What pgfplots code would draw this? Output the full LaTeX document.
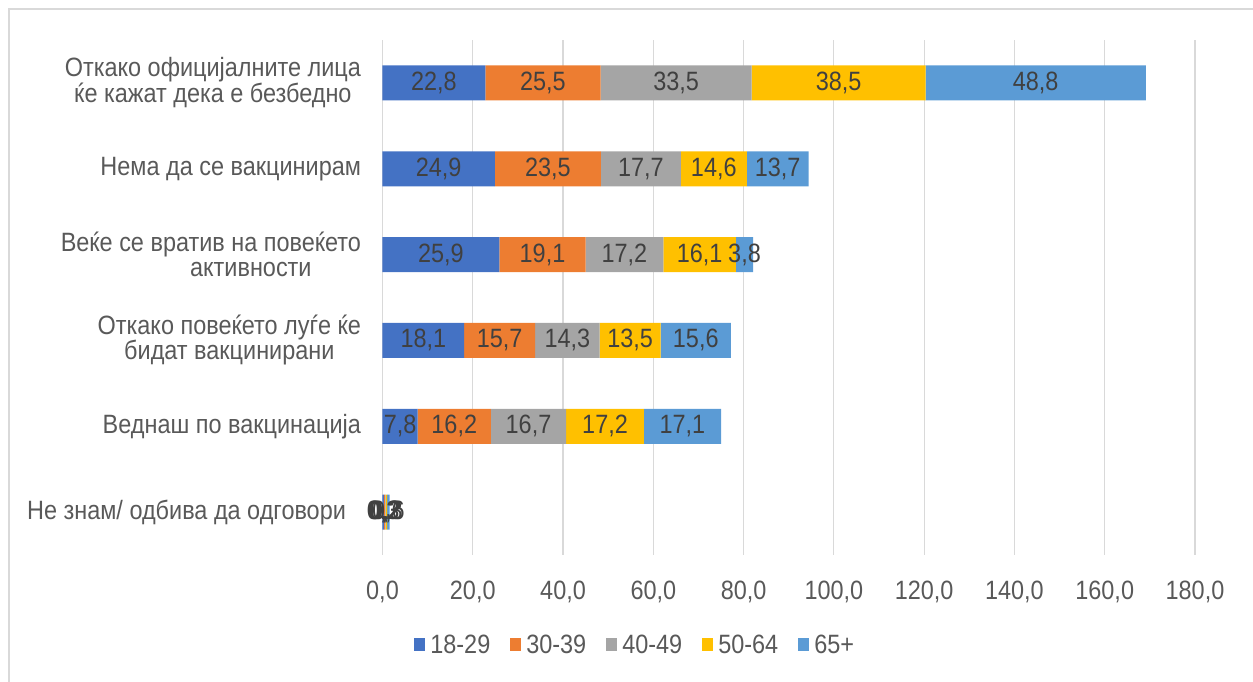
\documentclass[border=0pt]{standalone}
\usepackage{pgfplots}
\usepackage{pgfplotstable}
\pgfplotsset{compat=1.18}
\usepackage{fontspec}
\setmainfont[FakeStretch=0.885]{Liberation Sans}
\definecolor{c1}{HTML}{4472C4}
\definecolor{c2}{HTML}{ED7D31}
\definecolor{c3}{HTML}{A5A5A5}
\definecolor{c4}{HTML}{FFC000}
\definecolor{c5}{HTML}{5B9BD5}
\definecolor{txt}{HTML}{595959}
\definecolor{lbl}{HTML}{404040}
\definecolor{grd}{HTML}{D9D9D9}
\newcommand{\f}{\fontsize{26.5}{25}\selectfont}
\pgfplotstableread{
y a b c d e
0 22.8 25.5 33.5 38.5 48.8
1 24.9 23.5 17.7 14.6 13.7
2 25.9 19.1 17.2 16.1 3.8
3 18.1 15.7 14.3 13.5 15.6
4 7.8 16.2 16.7 17.2 17.1
5 0.3 0.2 0.2 0.3 0.6
}\data
\pgfplotsset{
  base/.style={
    at={(0pt,0pt)}, anchor=south west,
    scale only axis, width=812.5pt, height=515pt,
    xmin=0, xmax=180, ymin=-0.5, ymax=5.5, y dir=reverse,
    /pgf/number format/assume math mode=true,
    /pgf/number format/.cd, fixed, fixed zerofill, precision=1, use comma, /pgfplots/.cd,
  },
  lab/.style={draw=none, mark=none, nodes near coords={\pgfmathprintnumber{\pgfplotspointmeta}},
    point meta=explicit,
    every node near coord/.style={anchor=center, text=lbl, font=\f, inner sep=0pt}},
}
\begin{document}
\begin{tikzpicture}
\useasboundingbox (-382.5pt,-127pt) rectangle (870.5pt,555pt);
\draw[grd, line width=1.5pt] (-373.5pt,-130pt) -- (-373.5pt,546pt) -- (875pt,546pt);
\begin{axis}[base,
  xbar stacked, bar width=35pt,
  axis line style={draw=none}, tick style={draw=none},
  xmajorgrids, grid style={grd, line width=1.2pt},
  xtick distance=20,
  xticklabel style={anchor=center, yshift=-37pt, text=txt, font=\f},
  ytick={0,1,2,3,4,5},
  yticklabels={{Откако официјалните лица\\ќе кажат дека е безбедно},
    {Нема да се вакцинирам},
    {Веќе се вратив на повеќето\\\hspace*{80pt}активности},
    {Откако повеќето луѓе ќе\\бидат вакцинирани},
    {Веднаш по вакцинација},
    {Не знам/ одбива да одговори\hspace*{15pt}}},
  yticklabel style={align=center, anchor=east, xshift=-18pt, text=txt, font=\f},
  legend style={at={(0.311,-0.175)}, anchor=center, draw=none, legend columns=5,
    font=\f, text=txt,
    /tikz/every even column/.append style={column sep=18pt}},
  legend image code/.code={\draw[#1, draw=none] (0pt,-6pt) rectangle (11pt,7pt); \path (14pt,0pt);},
]
\addplot[fill=c1, draw=none] table[x=a, y=y] \data;
\addplot[fill=c2, draw=none] table[x=b, y=y] \data;
\addplot[fill=c3, draw=none] table[x=c, y=y] \data;
\addplot[fill=c4, draw=none] table[x=d, y=y] \data;
\addplot[fill=c5, draw=none] table[x=e, y=y] \data;
\legend{18-29, 30-39, 40-49, 50-64, 65+}
\end{axis}
\begin{axis}[base, hide axis, clip=false]
\addplot[lab] table[x expr=\thisrow{a}/2, y=y, meta=a] \data;
\addplot[lab] table[x expr=\thisrow{a}+\thisrow{b}/2, y=y, meta=b] \data;
\addplot[lab] table[x expr=\thisrow{a}+\thisrow{b}+\thisrow{c}/2, y=y, meta=c] \data;
\addplot[lab] table[x expr=\thisrow{a}+\thisrow{b}+\thisrow{c}+\thisrow{d}/2, y=y, meta=d] \data;
\addplot[lab] table[x expr=\thisrow{a}+\thisrow{b}+\thisrow{c}+\thisrow{d}+\thisrow{e}/2, y=y, meta=e] \data;
\end{axis}
\end{tikzpicture}
\end{document}
